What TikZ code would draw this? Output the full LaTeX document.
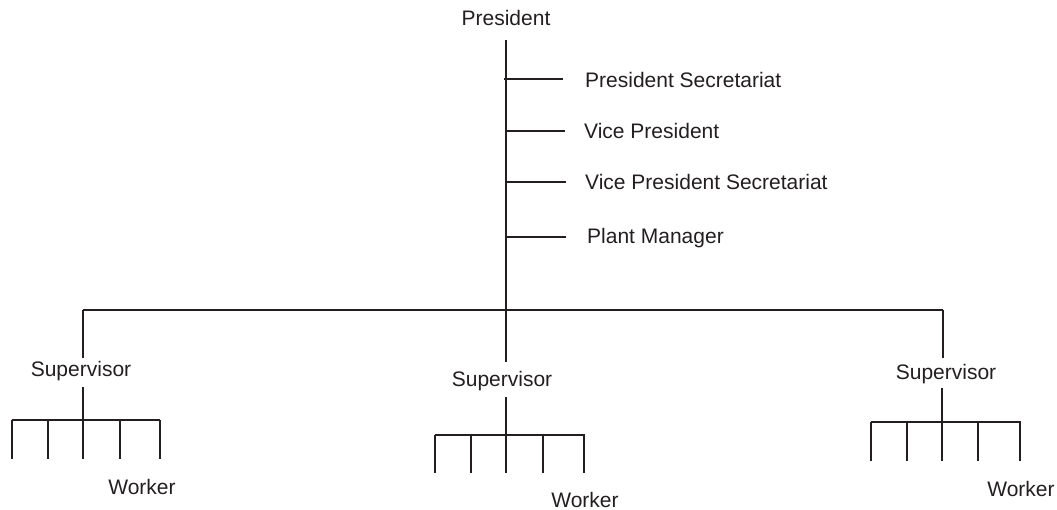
\documentclass[tikz,border=0pt]{standalone}
\usepackage{fontspec}
\setmainfont{Liberation Sans}
\begin{document}
\begin{tikzpicture}[x=1pt,y=-1pt,
  ln/.style={line width=1.5pt,draw={rgb,255:red,35;green,31;blue,32}},
  lbl/.style={inner sep=0pt,font=\fontsize{21}{25}\selectfont,text={rgb,255:red,35;green,31;blue,32}},
  lblw/.style={lbl,anchor=west}]
\useasboundingbox (0,0) rectangle (1057,510);
% top
\node[lbl] (pres) at (506,18) {President};
\coordinate (top) at (506,40);
\coordinate (bot) at (506,362);
\draw[ln] (top) -- (bot);
\node[lblw] (ps) at (585,80) {President Secretariat};
\node[lblw] (vp) at (584,131) {Vice President};
\node[lblw] (vps) at (585,182) {Vice President Secretariat};
\node[lblw] (pm) at (587,238) {Plant Manager};
\coordinate (b1) at (504,79);  \coordinate (e1) at (563,79);
\coordinate (b2) at (506,131); \coordinate (e2) at (565,131);
\coordinate (b3) at (506,182); \coordinate (e3) at (566,182);
\coordinate (b4) at (506,237); \coordinate (e4) at (566,237);
\draw[ln] (b1) -- (e1);
\draw[ln] (b2) -- (e2);
\draw[ln] (b3) -- (e3);
\draw[ln] (b4) -- (e4);
% horizontal bar
\coordinate (hl) at (83,310);
\coordinate (hr) at (943,310);
\draw[ln] (hl) -- (hr);
% left supervisor
\coordinate (ld) at (83,358);
\draw[ln] (hl) -- (ld);
\node[lbl] (sl) at (81,371) {Supervisor};
\coordinate (lu) at (83,387);
\coordinate (lb) at (83,420);
\draw[ln] (lu) -- (lb);
\coordinate (lbl1) at (12,420);
\coordinate (lbr) at (160,420);
\draw[ln] (lbl1) -- (lbr);
\foreach \x in {12,48,83,120,160} \draw[ln] (\x,420) -- (\x,459);
\node[lbl] (wl) at (142,487) {Worker};
% middle supervisor
\coordinate (mt) at (506,310);
\node[lbl] (sm) at (502,381) {Supervisor};
\coordinate (mu) at (506,397);
\coordinate (mb) at (506,435);
\draw[ln] (mu) -- (mb);
\coordinate (mbl) at (435,435);
\coordinate (mbr) at (585,435);
\draw[ln] (mbl) -- (mbr);
\foreach \x in {435,471,506,543,584} \draw[ln] (\x,435) -- (\x,473);
\node[lbl] (wm) at (585,500) {Worker};
% right supervisor
\coordinate (rd) at (943,358);
\draw[ln] (hr) -- (rd);
\node[lbl] (sr) at (946,374) {Supervisor};
\coordinate (ru) at (942,388);
\coordinate (rb) at (942,422);
\draw[ln] (ru) -- (rb);
\coordinate (rbl) at (871,422);
\coordinate (rbr) at (1021,422);
\draw[ln] (rbl) -- (rbr);
\foreach \x in {871,907,942,978,1020} \draw[ln] (\x,422) -- (\x,461);
\node[lbl] (wr) at (1021,489) {Worker};
\end{tikzpicture}
\end{document}
